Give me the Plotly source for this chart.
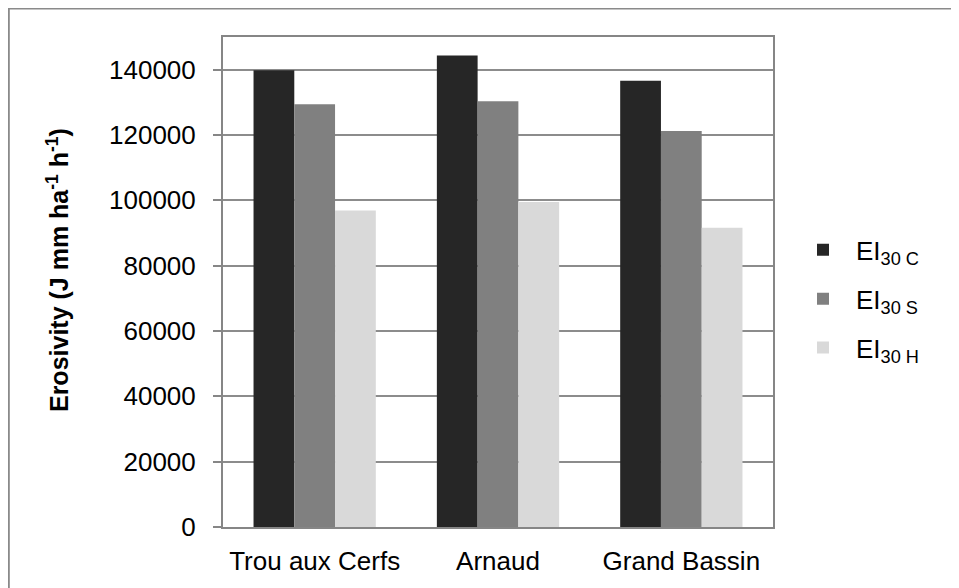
import plotly.graph_objects as go

# sites and erosivity values
sites = ['Trou aux Cerfs', 'Arnaud', 'Grand Bassin']
ei30_c = [139800, 144300, 136600]
ei30_s = [129400, 130300, 121200]
ei30_h = [96900, 99500, 91600]

series_names = ['EI<sub>30 C</sub>', 'EI<sub>30 S</sub>', 'EI<sub>30 H</sub>']
series_colors = ['#262626', '#808080', '#d9d9d9']
y_ticks = list(range(0, 140001, 20000))

fig = go.Figure()
for name, vals, col in zip(series_names, [ei30_c, ei30_s, ei30_h], series_colors):
    fig.add_trace(go.Bar(
        x=sites, y=vals,
        name=name,
        legendgroup=name,
        marker=dict(color=col, line=dict(width=0)),
    ))

# the page body has an 8px margin, so the figure is a bit smaller
W, H = 951, 580
L, R, T, B = 215, 186, 29, 59
pw, ph = W - L - R, H - T - B

# outer chart frame
fig.add_shape(
    type='rect', xref='paper', yref='paper',
    x0=(0.8 - L) / pw, x1=(950 - L) / pw,
    y0=(H - B - 600) / ph, y1=(H - B - 0.5) / ph,
    line=dict(color='#8a8a8a', width=2),
    layer='below',
)

# y axis title
fig.add_annotation(
    text='<b>Erosivity (J mm ha<sup>-1</sup> h<sup>-1</sup>)</b>',
    xref='paper', yref='paper',
    x=(50 - L) / pw, y=(H - B - 263) / ph,
    xanchor='center', yanchor='middle',
    textangle=-90, showarrow=False,
    font=dict(size=25),
)

fig.update_layout(
    width=W, height=H,
    margin=dict(l=L, r=R, t=T, b=B),
    paper_bgcolor='white',
    plot_bgcolor='white',
    font=dict(family='Liberation Sans, Arial, sans-serif', size=26, color='black'),
    barmode='group',
    bargap=0.333,
    bargroupgap=0,
    legend=dict(
        x=(782 - L) / pw, y=(H - B - 292) / ph,
        xanchor='left', yanchor='middle',
        font=dict(size=26),
        itemwidth=56,
        tracegroupgap=12,
        bgcolor='rgba(0,0,0,0)',
    ),
    showlegend=True,
)
fig.update_xaxes(
    showline=True, linecolor='#868686', linewidth=2, mirror=True,
    ticks='', showgrid=False,
    ticklabelstandoff=10,
    tickfont=dict(size=26),
)
fig.update_yaxes(
    range=[0, 150000],
    tickvals=y_ticks,
    ticktext=[str(v) for v in y_ticks],
    showline=True, linecolor='#868686', linewidth=2, mirror=True,
    ticks='outside', ticklen=8, tickcolor='#868686', tickwidth=2,
    ticklabelstandoff=12,
    showgrid=True, gridcolor='#8c8c8c', gridwidth=2,
    zeroline=False,
    tickfont=dict(size=26),
)

fig.write_html('out.html')
